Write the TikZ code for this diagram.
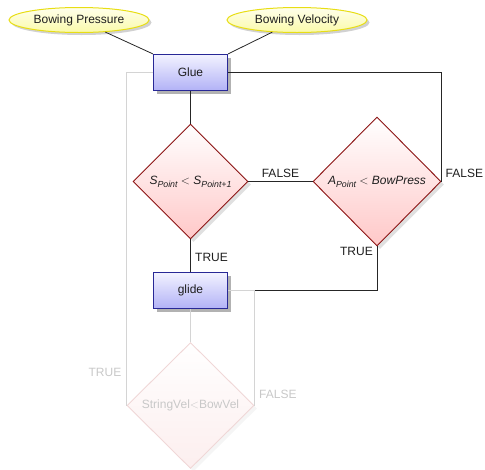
\documentclass[tikz,border=0pt]{standalone}
\usepackage{fontspec}
\setmainfont{Liberation Sans}
\usetikzlibrary{shapes.geometric,shadows}
\definecolor{ellborder}{RGB}{232,222,20}
\definecolor{elltop}{RGB}{255,255,235}
\definecolor{ellbot}{RGB}{250,250,170}
\definecolor{boxborder}{RGB}{40,40,150}
\definecolor{boxbot}{RGB}{178,178,246}
\definecolor{dmborder}{RGB}{140,20,20}
\definecolor{dmbot}{RGB}{255,200,200}
\definecolor{faintline}{RGB}{212,212,212}
\definecolor{fainttext}{RGB}{200,200,200}
\definecolor{faintborder}{RGB}{240,215,215}
\definecolor{faintbot}{RGB}{252,238,238}
\definecolor{inktext}{RGB}{30,30,30}
\newcommand{\subtxt}[1]{\raisebox{-0.45ex}{\fontsize{8.8}{9}\selectfont\itshape #1}}
\tikzset{
  base/.style={font=\fontsize{12}{14}\selectfont, inner sep=0pt, text=inktext},
  input/.style={base, ellipse, draw=ellborder, line width=1pt, top color=elltop, bottom color=ellbot,
     minimum width=140pt, minimum height=25pt,
     drop shadow={shadow xshift=2.5pt, shadow yshift=-2.5pt, fill=black, opacity=0.18}},
  procbox/.style={base, rectangle, draw=boxborder, line width=1.2pt, top color=white!95!blue, bottom color=boxbot,
     minimum width=74pt, minimum height=36pt,
     drop shadow={shadow xshift=3pt, shadow yshift=-3pt, fill=black, opacity=0.3}},
  decide/.style={base, diamond, draw=dmborder, line width=0.9pt, top color=white, bottom color=dmbot,
     drop shadow={shadow xshift=3pt, shadow yshift=-3pt, fill=black, opacity=0.12}},
  faintdecide/.style={base, diamond, draw=faintborder, line width=0.9pt, top color=white, bottom color=faintbot,
     text=fainttext,
     drop shadow={shadow xshift=3pt, shadow yshift=-3pt, fill=black, opacity=0.04}},
  conn/.style={draw=black!85, line width=0.8pt},
  faintconn/.style={draw=faintline, line width=0.8pt},
  lbl/.style={base},
  faintlbl/.style={base, text=fainttext},
}
\begin{document}
\begin{tikzpicture}[x=1pt,y=-1pt]
\useasboundingbox (0,0) rectangle (485,469);
\node[input] (bp) at (79,20) {Bowing Pressure};
\node[input] (bv) at (297,20) {Bowing Velocity};
\node[procbox] (glue) at (190.5,72.5) {Glue};
\node[decide, minimum width=115pt, minimum height=115pt] (d1) at (190.5,181.5)
  {\itshape S\subtxt{Point} $<$ S\subtxt{Point+1}};
\node[decide, minimum width=128pt, minimum height=129pt] (d2) at (377,181.5)
  {\itshape A\subtxt{Point} $<$ BowPress};
\node[procbox] (glide) at (190.5,290.5) {glide};
\node[faintdecide, minimum width=127pt, minimum height=126pt] (d3) at (190.5,405.5)
  {StringVel$<$BowVel};

\draw[conn] (bp) -- (glue.north west);
\draw[conn] (bv) -- (glue.north east);
\draw[conn] (glue.south) -- (d1.north);
\draw[conn] (d1.east) -- node[lbl, above=3pt] {FALSE} (d2.west);
\draw[conn] (glue.east) -| (d2.east);
\node[lbl, anchor=south west] (lf2) at ([xshift=4pt,yshift=4pt]d2.east) {FALSE};
\draw[conn] (d1.south) -- (glide.north);
\node[lbl, anchor=west] (lt1) at (195,257) {TRUE};
\draw[conn] (d2.south) |- (glide.east);
\node[lbl, anchor=east] (lt2) at (373,251) {TRUE};

\draw[faintconn] (glue.west) -| (d3.west);
\draw[faintconn] (glide.south) -- (d3.north);
\draw[faintconn] (glide.east) -| (d3.east);
\node[faintlbl] (lt3) at (105,372) {TRUE};
\node[faintlbl, anchor=west] (lf3) at (259,394) {FALSE};
\end{tikzpicture}
\end{document}
